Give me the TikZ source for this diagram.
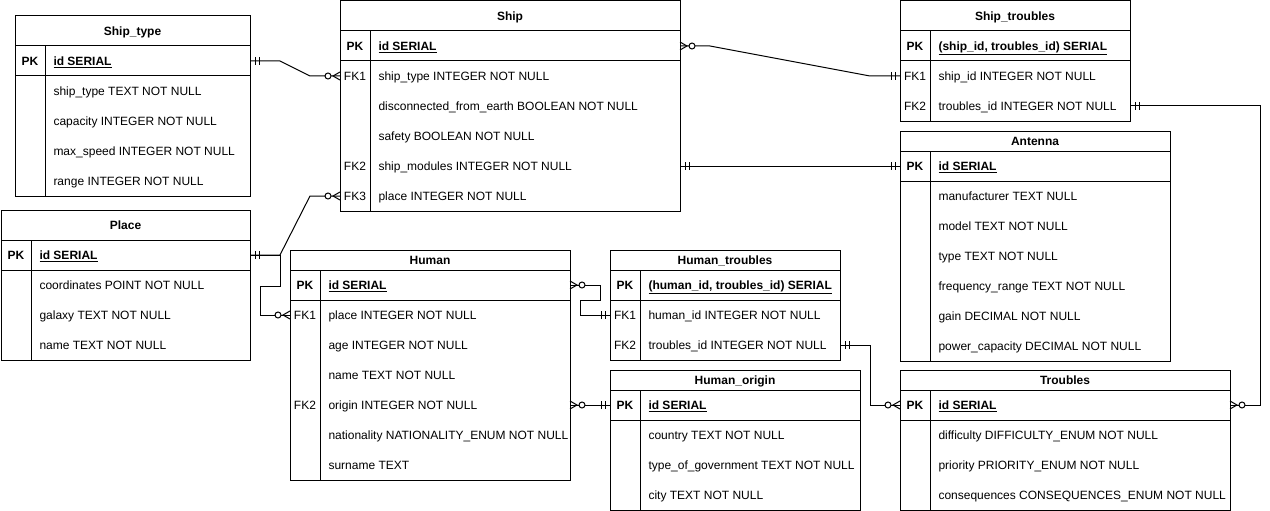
\documentclass[tikz,border=0pt]{standalone}
\usepackage{fontspec}
\setmainfont{Liberation Sans}
\usepackage{tikz}
\usetikzlibrary{calc,decorations.markings}

% one table: name, x, y, width, title height, title, rows (key/value)
\newcommand{\ertable}[7]{%
\node[tabhead, minimum width=#4, minimum height=#5] (#1) at (#2,#3) {#6};
\foreach \kk/\vv [count=\i] in {#7} {
  \node[tabrow, minimum width=#4] (#1-\i) at ($(#1.south west)+(0,{30*(\i-1)})$) {};
  \node[keytxt] (#1-k\i) at ([xshift=15]#1-\i.west) {\kk};
  \node[valtxt] (#1-v\i) at ([xshift=38]#1-\i.west) {\vv};
  \xdef\ernrows{\i}
}
\draw (#1.north west) rectangle (#1-\ernrows.south east);
\draw (#1-1.south west) -- (#1-1.south east);
\draw ([xshift=30]#1.south west) -- ([xshift=30]#1-\ernrows.south west);
}

\begin{document}
\begin{tikzpicture}[x=1pt, y=-1pt, line width=1pt,
  font=\fontsize{12pt}{14pt}\selectfont,
  tabhead/.style={draw, anchor=north west, inner sep=0, outer sep=0,
    text height=9.8pt, text depth=1.4pt,
    font=\fontsize{12pt}{14pt}\selectfont\bfseries},
  tabrow/.style={anchor=north west, inner sep=0, outer sep=0, minimum height=30},
  keytxt/.style={inner sep=0, text height=9.8pt, text depth=1.4pt},
  valtxt/.style={anchor=west, inner sep=0, text height=9.8pt, text depth=1.4pt},
  one start/.style={postaction={decorate, decoration={markings,
    mark=at position 0 with {\draw (5,-4) -- (5,4) (9,-4) -- (9,4);}}}},
  one end/.style={postaction={decorate, decoration={markings,
    mark=at position 1 with {\draw (-5,-4) -- (-5,4) (-9,-4) -- (-9,4);}}}},
  many start/.style={postaction={decorate, decoration={markings,
    mark=at position 0 with {\draw (0,-4) -- (7,0) -- (0,4);
      \draw[fill=white] (12,0) circle (3pt);}}}},
  many end/.style={postaction={decorate, decoration={markings,
    mark=at position 1 with {\draw (0,-4) -- (-7,0) -- (0,4);
      \draw[fill=white] (-12,0) circle (3pt);}}}}]
\useasboundingbox (0,0) rectangle (1270,511);

\ertable{shiptype}{15}{16}{235}{30}{Ship\_type}{{\textbf{PK}}/{\textbf{\underline{id SERIAL}}},
  /{ship\_type TEXT NOT NULL}, /{capacity INTEGER NOT NULL},
  /{max\_speed INTEGER NOT NULL}, /{range INTEGER NOT NULL}}
\ertable{ship}{340}{1}{340}{30}{Ship}{{\textbf{PK}}/{\textbf{\underline{id SERIAL}}},
  FK1/{ship\_type INTEGER NOT NULL}, /{disconnected\_from\_earth BOOLEAN NOT NULL},
  /{safety BOOLEAN NOT NULL}, FK2/{ship\_modules INTEGER NOT NULL},
  FK3/{place INTEGER NOT NULL}}
\ertable{shiptr}{900}{1}{230}{30}{Ship\_troubles}{{\textbf{PK}}/{\textbf{\underline{(ship\_id, troubles\_id) SERIAL}}},
  FK1/{ship\_id INTEGER NOT NULL}, FK2/{troubles\_id INTEGER NOT NULL}}
\ertable{antenna}{900}{131}{270}{20}{Antenna}{{\textbf{PK}}/{\textbf{\underline{id SERIAL}}},
  /{manufacturer TEXT NULL}, /{model TEXT NOT NULL}, /{type TEXT NOT NULL},
  /{frequency\_range TEXT NOT NULL}, /{gain DECIMAL NOT NULL},
  /{power\_capacity DECIMAL NOT NULL}}
\ertable{place}{1}{210}{249}{30}{Place}{{\textbf{PK}}/{\textbf{\underline{id SERIAL}}},
  /{coordinates POINT NOT NULL}, /{galaxy TEXT NOT NULL}, /{name TEXT NOT NULL}}
\ertable{human}{290}{250}{280}{20}{Human}{{\textbf{PK}}/{\textbf{\underline{id SERIAL}}},
  FK1/{place INTEGER NOT NULL}, /{age INTEGER NOT NULL}, /{name TEXT NOT NULL},
  FK2/{origin INTEGER NOT NULL}, /{nationality NATIONALITY\_ENUM NOT NULL},
  /{surname TEXT}}
\ertable{humtr}{610}{250}{230}{20}{Human\_troubles}{{\textbf{PK}}/{\textbf{\underline{(human\_id, troubles\_id) SERIAL}}},
  FK1/{human\_id INTEGER NOT NULL}, FK2/{troubles\_id INTEGER NOT NULL}}
\ertable{origin}{610}{370}{250}{20}{Human\_origin}{{\textbf{PK}}/{\textbf{\underline{id SERIAL}}},
  /{country TEXT NOT NULL}, /{type\_of\_government TEXT NOT NULL},
  /{city TEXT NOT NULL}}
\ertable{troubles}{900}{370}{330}{20}{Troubles}{{\textbf{PK}}/{\textbf{\underline{id SERIAL}}},
  /{difficulty DIFFICULTY\_ENUM NOT NULL}, /{priority PRIORITY\_ENUM NOT NULL},
  /{consequences CONSEQUENCES\_ENUM NOT NULL}}

% relations
\draw[one start, many end] (shiptype-1.east) -- ++(30,0) -- ([xshift=-30]ship-2.west) -- (ship-2.west);
\draw[many start, one end] (ship-1.east) -- ++(30,0) -- ([xshift=-30]shiptr-2.west) -- (shiptr-2.west);
\draw[one start, one end] (ship-5.east) -- (antenna-1.west);
\draw[one start, many end] (place-1.east) -- ++(30,0) -- ([xshift=-30]ship-6.west) -- (ship-6.west);
\draw[one start, many end] (place-1.east) -- ++(30,0) -- ++(0,31) -- ++(-20,0) |- (human-2.west);
\draw[many start, one end] (human-1.east) -- ++(30,0) -- ++(0,15) -- ++(-20,0) |- (humtr-2.west);
\draw[one start, many end] (humtr-3.east) -- ++(30,0) |- (troubles-1.west);
\draw[many start, one end] (human-5.east) -- (origin-1.west);
\draw[one start, many end] (shiptr-3.east) -- ++(130,0) |- (troubles-1.east);
\end{tikzpicture}
\end{document}
